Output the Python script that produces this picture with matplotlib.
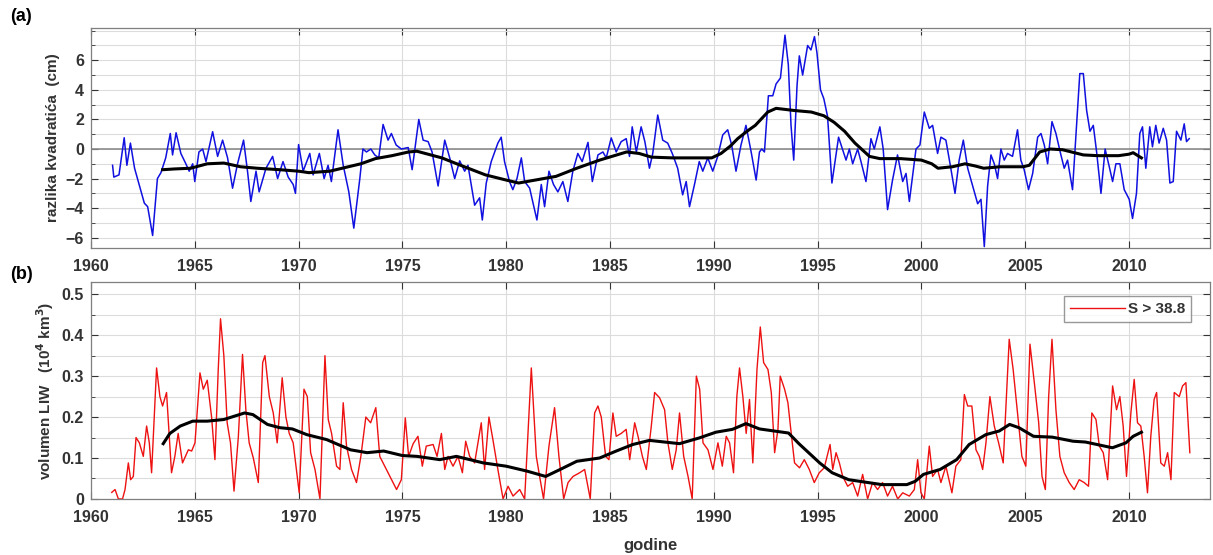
# -*- coding: utf-8 -*-

import matplotlib.pyplot as plt
import matplotlib.ticker as mticker
import numpy as np

plt.rcParams['font.family'] = ['Liberation Sans', 'DejaVu Sans']
plt.rcParams['font.weight'] = 'bold'

# (a) razlika kvadratica, cm  (godina, vrijednost)
a_t = [1961.04, 1961.1, 1961.35, 1961.6, 1961.73, 1961.9, 1962.1, 1962.57, 1962.73, 1962.97,
       1963.2, 1963.37, 1963.6, 1963.82, 1963.93, 1964.1, 1964.33, 1964.57, 1964.73, 1964.9,
       1965.0, 1965.2, 1965.38, 1965.54, 1965.86, 1966.1, 1966.34, 1966.58, 1966.82, 1967.06,
       1967.35, 1967.54, 1967.7, 1967.95, 1968.1, 1968.43, 1968.75, 1968.99, 1969.25, 1969.5,
       1969.74, 1969.85, 1970.0, 1970.22, 1970.54, 1970.7, 1971.0, 1971.23, 1971.42, 1971.58,
       1971.9, 1972.15, 1972.42, 1972.66, 1972.95, 1973.1, 1973.27, 1973.48, 1973.67, 1973.86,
       1974.07, 1974.31, 1974.47, 1974.7, 1974.95, 1975.28, 1975.47, 1975.79, 1976.0, 1976.24,
       1976.43, 1976.72, 1977.04, 1977.28, 1977.52, 1977.76, 1978.0, 1978.16, 1978.48, 1978.72,
       1978.85, 1979.04, 1979.28, 1979.6, 1979.76, 1979.92, 1980.16, 1980.32, 1980.52, 1980.73,
       1980.89, 1981.13, 1981.48, 1981.69, 1981.85, 1982.06, 1982.28, 1982.49, 1982.73, 1982.97,
       1983.21, 1983.45, 1983.66, 1983.94, 1984.15, 1984.42, 1984.66, 1984.82, 1985.06, 1985.3,
       1985.54, 1985.78, 1985.94, 1986.07, 1986.27, 1986.5, 1986.68, 1986.9, 1987.06, 1987.3,
       1987.54, 1987.78, 1988.0, 1988.26, 1988.5, 1988.67, 1988.83, 1989.07, 1989.3, 1989.47,
       1989.71, 1989.95, 1990.19, 1990.43, 1990.67, 1990.86, 1991.07, 1991.31, 1991.55, 1991.8,
       1992.04, 1992.2, 1992.31, 1992.44, 1992.63, 1992.84, 1993.0, 1993.21, 1993.43, 1993.59,
       1993.72, 1993.85, 1994.01, 1994.12, 1994.28, 1994.52, 1994.68, 1994.85, 1994.97, 1995.14,
       1995.3, 1995.48, 1995.69, 1996.01, 1996.37, 1996.53, 1996.69, 1996.93, 1997.09, 1997.33,
       1997.57, 1997.73, 1998.0, 1998.16, 1998.37, 1998.61, 1998.85, 1999.1, 1999.26, 1999.42,
       1999.74, 1999.93, 2000.14, 2000.38, 2000.54, 2000.78, 2000.94, 2001.18, 2001.38, 2001.62,
       2001.82, 2002.02, 2002.23, 2002.47, 2002.71, 2002.87, 2003.03, 2003.19, 2003.35, 2003.51,
       2003.67, 2003.83, 2003.99, 2004.15, 2004.39, 2004.63, 2004.79, 2004.95, 2005.16, 2005.36,
       2005.6, 2005.76, 2005.92, 2006.08, 2006.29, 2006.48, 2006.72, 2006.88, 2007.04, 2007.28,
       2007.47, 2007.63, 2007.8, 2007.96, 2008.12, 2008.28, 2008.44, 2008.65, 2008.85, 2009.05,
       2009.21, 2009.37, 2009.56, 2009.77, 2010.01, 2010.17, 2010.36, 2010.52, 2010.65, 2010.81,
       2011.0, 2011.13, 2011.29, 2011.45, 2011.65, 2011.81, 2011.97, 2012.13, 2012.29, 2012.5,
       2012.66, 2012.77, 2012.9]
a_v = [-1.1, -1.9, -1.75, 0.76, -1.1, 0.4, -1.3, -3.66, -3.9, -5.85,
       -2.0, -1.6, -0.6, 1.05, -0.4, 1.1, -0.3, -1.0, -1.5, -1.0,
       -2.2, -0.2, 0.0, -0.85, 1.17, -0.5, 0.6, -0.6, -2.65, -1.0,
       0.6, -1.5, -3.55, -1.5, -2.9, -1.3, -0.5, -2.0, -0.85, -1.9,
       -2.4, -3.0, 0.3, -1.5, -0.3, -1.75, -0.3, -2.0, -1.1, -2.2,
       1.3, -1.1, -2.9, -5.35, -2.0, 0.0, -0.2, 0.0, -0.4, -0.6,
       1.66, 0.6, 1.05, 0.27, 0.0, 0.1, -1.4, 2.0, 0.6, 0.5,
       -0.2, -2.5, 0.6, -0.6, -2.0, -0.8, -1.5, -1.1, -3.8, -3.3,
       -4.8, -2.3, -0.85, 0.4, 0.8, -0.85, -2.2, -2.75, -2.0, -0.6,
       -2.2, -2.65, -4.8, -2.4, -3.9, -1.5, -2.4, -2.9, -2.2, -3.55,
       -1.5, -0.3, -0.85, 0.45, -2.2, -0.4, -0.2, -0.6, 0.75, -0.2,
       0.5, 0.7, -0.5, 1.5, -0.2, 1.5, 0.5, -1.3, -0.3, 2.3,
       0.6, 0.4, -0.3, -1.3, -3.1, -2.2, -3.9, -2.4, -0.85, -1.5,
       -0.6, -1.5, -0.5, 0.95, 1.3, 0.27, -1.5, 0.27, 1.6, -0.2,
       -2.1, -0.2, 0.0, -0.2, 3.6, 3.6, 4.4, 4.8, 7.7, 5.7,
       1.6, -0.75, 4.3, 6.3, 5.0, 7.0, 6.7, 7.6, 6.5, 4.0,
       3.4, 2.2, -2.3, 0.8, -0.75, 0.0, -1.0, 0.0, -0.85, -2.2,
       0.7, 0.0, 1.5, 0.0, -4.1, -2.1, -0.4, -2.2, -1.65, -3.55,
       0.0, 0.27, 2.5, 1.4, 1.6, -0.3, 0.8, 0.6, -1.0, -3.0,
       -0.75, 0.6, -1.3, -2.5, -3.7, -3.4, -6.6, -2.5, -0.4, -1.0,
       -2.0, 0.0, -0.75, -0.3, -0.5, 1.3, -0.75, -1.4, -2.75, -1.65,
       0.8, 1.05, 0.27, -1.0, 1.85, 1.05, -0.4, -1.3, -0.75, -2.75,
       1.5, 5.1, 5.1, 2.6, 1.2, 1.6, -0.2, -3.0, 0.0, -1.2,
       -2.2, -1.0, -1.0, -2.75, -3.4, -4.7, -3.0, 1.05, 1.5, -1.3,
       1.5, 0.15, 1.6, 0.4, 1.4, 0.6, -2.3, -2.2, 1.2, 0.6,
       1.7, 0.5, 0.7]

# (a) izgladjena krivulja
a_smooth_t = [1963.45, 1964.0, 1964.8, 1965.6, 1966.4, 1967.2, 1968.0, 1969.1, 1970.0, 1970.5,
              1971.5, 1972.1, 1973.0, 1973.7, 1974.5, 1975.3, 1975.7, 1976.9, 1977.8, 1979.0,
              1980.0, 1980.6, 1981.0, 1982.4, 1983.4, 1984.5, 1985.8, 1986.4, 1987.0, 1988.0,
              1989.0, 1989.9, 1990.35, 1990.8, 1991.15, 1991.6, 1992.0, 1992.6, 1993.0, 1993.9,
              1994.7, 1995.3, 1995.8, 1996.3, 1996.8, 1997.5, 1998.0, 1999.0, 2000.0, 2000.5,
              2000.8, 2001.5, 2002.1, 2002.6, 2003.0, 2003.8, 2004.9, 2005.2, 2005.7, 2006.2,
              2006.8, 2007.8, 2008.5, 2009.5, 2010.0, 2010.2, 2010.6]
a_smooth_v = [-1.4, -1.35, -1.3, -1.0, -0.95, -1.2, -1.3, -1.4, -1.5, -1.6,
              -1.5, -1.3, -1.0, -0.65, -0.45, -0.2, -0.15, -0.6, -1.1, -1.75,
              -2.1, -2.3, -2.2, -1.85, -1.3, -0.75, -0.2, -0.3, -0.55, -0.6,
              -0.6, -0.6, -0.3, 0.2, 0.7, 1.2, 1.6, 2.5, 2.75, 2.6,
              2.5, 2.25, 1.8, 1.2, 0.4, -0.5, -0.65, -0.65, -0.75, -1.0,
              -1.3, -1.2, -1.0, -1.15, -1.3, -1.2, -1.2, -1.1, -0.2, 0.0,
              -0.05, -0.4, -0.45, -0.45, -0.35, -0.25, -0.6]

# (b) volumen LIW, 10^4 km^3
b_t = [1961.0, 1961.16, 1961.32, 1961.52, 1961.64, 1961.8, 1961.91, 1962.04, 1962.17, 1962.33,
       1962.52, 1962.68, 1962.81, 1962.92, 1963.16, 1963.32, 1963.45, 1963.64, 1963.88, 1964.04,
       1964.2, 1964.41, 1964.69, 1964.85, 1965.01, 1965.25, 1965.41, 1965.6, 1965.81, 1965.97,
       1966.13, 1966.24, 1966.4, 1966.56, 1966.72, 1966.89, 1967.1, 1967.3, 1967.46, 1967.62,
       1967.82, 1968.06, 1968.27, 1968.38, 1968.59, 1968.78, 1968.97, 1969.21, 1969.39, 1969.55,
       1969.74, 1970.03, 1970.26, 1970.42, 1970.58, 1970.79, 1971.03, 1971.27, 1971.43, 1971.59,
       1971.83, 1971.99, 1972.15, 1972.31, 1972.55, 1972.79, 1973.0, 1973.24, 1973.47, 1973.72,
       1973.91, 1974.15, 1974.4, 1974.72, 1974.95, 1975.14, 1975.3, 1975.52, 1975.75, 1975.96,
       1976.15, 1976.48, 1976.67, 1976.88, 1977.04, 1977.2, 1977.44, 1977.68, 1977.89, 1978.05,
       1978.24, 1978.48, 1978.8, 1978.96, 1979.17, 1979.36, 1979.6, 1979.85, 1980.09, 1980.33,
       1980.65, 1980.89, 1981.21, 1981.45, 1981.61, 1981.8, 1982.06, 1982.33, 1982.54, 1982.77,
       1982.98, 1983.22, 1983.54, 1983.78, 1984.05, 1984.26, 1984.42, 1984.58, 1984.79, 1984.95,
       1985.14, 1985.3, 1985.54, 1985.78, 1985.95, 1986.19, 1986.35, 1986.56, 1986.75, 1986.99,
       1987.15, 1987.39, 1987.63, 1987.79, 1988.0, 1988.19, 1988.35, 1988.55, 1988.76, 1988.96,
       1989.16, 1989.32, 1989.48, 1989.72, 1989.96, 1990.2, 1990.41, 1990.6, 1990.76, 1990.95,
       1991.11, 1991.24, 1991.4, 1991.56, 1991.72, 1991.88, 1992.08, 1992.24, 1992.4, 1992.61,
       1992.77, 1992.93, 1993.09, 1993.2, 1993.41, 1993.57, 1993.73, 1993.89, 1994.13, 1994.36,
       1994.6, 1994.84, 1995.08, 1995.32, 1995.6, 1995.73, 1995.89, 1996.05, 1996.21, 1996.45,
       1996.69, 1996.93, 1997.17, 1997.41, 1997.65, 1997.89, 1998.13, 1998.37, 1998.61, 1998.86,
       1999.1, 1999.42, 1999.66, 1999.82, 1999.98, 2000.14, 2000.38, 2000.54, 2000.78, 2000.94,
       2001.18, 2001.47, 2001.66, 2001.9, 2002.07, 2002.23, 2002.43, 2002.63, 2002.79, 2002.95,
       2003.11, 2003.3, 2003.51, 2003.72, 2003.94, 2004.23, 2004.42, 2004.63, 2004.84, 2005.03,
       2005.23, 2005.44, 2005.65, 2005.81, 2005.97, 2006.13, 2006.29, 2006.48, 2006.67, 2006.88,
       2007.12, 2007.36, 2007.6, 2007.84, 2008.05, 2008.21, 2008.41, 2008.57, 2008.76, 2008.97,
       2009.21, 2009.4, 2009.56, 2009.72, 2009.88, 2010.09, 2010.25, 2010.41, 2010.57, 2010.73,
       2010.89, 2011.05, 2011.21, 2011.33, 2011.53, 2011.7, 2011.86, 2012.02, 2012.18, 2012.42,
       2012.58, 2012.74, 2012.93]
b_v = [0.016, 0.023, 0.0, 0.0, 0.023, 0.088, 0.047, 0.055, 0.15, 0.137,
       0.104, 0.178, 0.137, 0.064, 0.32, 0.25, 0.227, 0.26, 0.064, 0.104,
       0.16, 0.088, 0.12, 0.117, 0.137, 0.308, 0.268, 0.29, 0.2, 0.096,
       0.316, 0.44, 0.35, 0.186, 0.137, 0.019, 0.153, 0.353, 0.218, 0.137,
       0.1, 0.04, 0.333, 0.35, 0.25, 0.21, 0.137, 0.296, 0.2, 0.16,
       0.137, 0.015, 0.268, 0.25, 0.113, 0.072, 0.0, 0.35, 0.194, 0.16,
       0.08, 0.072, 0.235, 0.129, 0.072, 0.04, 0.104, 0.2, 0.186, 0.223,
       0.104, 0.08, 0.055, 0.023, 0.047, 0.198, 0.104, 0.135, 0.153, 0.08,
       0.129, 0.133, 0.104, 0.16, 0.072, 0.104, 0.08, 0.104, 0.064, 0.141,
       0.104, 0.088, 0.186, 0.072, 0.2, 0.145, 0.072, 0.0, 0.031, 0.007,
       0.023, 0.0, 0.32, 0.104, 0.055, 0.0, 0.129, 0.223, 0.104, 0.0,
       0.04, 0.055, 0.064, 0.072, 0.0, 0.21, 0.227, 0.2, 0.104, 0.096,
       0.21, 0.153, 0.16, 0.17, 0.096, 0.186, 0.153, 0.104, 0.072, 0.178,
       0.26, 0.247, 0.218, 0.137, 0.072, 0.12, 0.21, 0.104, 0.055, 0.0,
       0.3, 0.268, 0.137, 0.12, 0.072, 0.137, 0.08, 0.153, 0.137, 0.064,
       0.25, 0.32, 0.25, 0.16, 0.243, 0.088, 0.316, 0.42, 0.333, 0.316,
       0.26, 0.113, 0.17, 0.3, 0.268, 0.235, 0.16, 0.088, 0.076, 0.096,
       0.072, 0.04, 0.064, 0.076, 0.133, 0.072, 0.113, 0.088, 0.055, 0.031,
       0.04, 0.007, 0.06, 0.0, 0.04, 0.023, 0.04, 0.007, 0.031, 0.0,
       0.015, 0.007, 0.023, 0.096, 0.015, 0.0, 0.129, 0.055, 0.072, 0.04,
       0.08, 0.015, 0.08, 0.096, 0.255, 0.227, 0.227, 0.12, 0.104, 0.072,
       0.137, 0.25, 0.178, 0.137, 0.088, 0.39, 0.316, 0.21, 0.104, 0.08,
       0.378, 0.284, 0.186, 0.055, 0.023, 0.25, 0.39, 0.218, 0.104, 0.064,
       0.04, 0.023, 0.047, 0.04, 0.031, 0.21, 0.194, 0.129, 0.113, 0.047,
       0.276, 0.218, 0.25, 0.178, 0.055, 0.21, 0.292, 0.186, 0.178, 0.104,
       0.015, 0.153, 0.243, 0.26, 0.088, 0.08, 0.113, 0.047, 0.26, 0.25,
       0.276, 0.284, 0.113]

# (b) izgladjena krivulja
b_smooth_t = [1963.48, 1963.8, 1964.3, 1964.9, 1965.6, 1966.4, 1967.4, 1967.8, 1968.5, 1969.1,
              1969.7, 1970.4, 1971.35, 1972.5, 1973.3, 1974.1, 1975.0, 1975.7, 1976.8, 1977.6,
              1978.9, 1980.0, 1981.0, 1981.9, 1982.6, 1983.4, 1984.5, 1985.3, 1986.1, 1986.9,
              1988.35, 1989.3, 1990.1, 1990.9, 1991.55, 1992.2, 1993.6, 1994.1, 1995.1, 1995.7,
              1996.5, 1998.1, 1999.3, 1999.7, 2000.1, 2000.9, 2001.7, 2002.3, 2003.1, 2003.75,
              2004.25, 2004.7, 2005.4, 2006.3, 2007.3, 2007.9, 2009.2, 2009.85, 2010.2, 2010.6]
b_smooth_v = [0.135, 0.16, 0.178, 0.19, 0.19, 0.194, 0.21, 0.206, 0.182, 0.174,
              0.171, 0.157, 0.145, 0.12, 0.113, 0.117, 0.106, 0.104, 0.096, 0.104,
              0.088, 0.08, 0.068, 0.055, 0.072, 0.092, 0.1, 0.117, 0.133, 0.143,
              0.135, 0.149, 0.163, 0.17, 0.184, 0.171, 0.161, 0.135, 0.088, 0.064,
              0.047, 0.035, 0.035, 0.043, 0.06, 0.072, 0.096, 0.133, 0.157, 0.166,
              0.182, 0.174, 0.153, 0.151, 0.141, 0.139, 0.125, 0.137, 0.153, 0.163]

x_ticks = [1960, 1965, 1970, 1975, 1980, 1985, 1990, 1995, 2000, 2005, 2010]
tick_col = '#333333'
grid_col = '#dcdcdc'


def style_axes(ax):
    ax.set_xlim(1960, 2013.9)
    ax.set_xticks(x_ticks)
    ax.grid(True, which='major', axis='x', color=grid_col, lw=0.8)
    ax.grid(True, which='both', axis='y', color=grid_col, lw=0.8)
    ax.tick_params(which='both', direction='in', top=True, right=True,
                   colors=tick_col, labelsize=11.5)
    ax.tick_params(which='major', length=5)
    ax.tick_params(which='minor', length=3)
    ax.tick_params(axis='x', pad=8)
    ax.tick_params(axis='y', pad=5)
    for lab in ax.get_xticklabels() + ax.get_yticklabels():
        lab.set_fontweight('bold')
    for s in ax.spines.values():
        s.set_color('#7f7f7f')
        s.set_linewidth(0.9)
    ax.set_axisbelow(True)


fig = plt.figure(figsize=(12.13, 5.55), dpi=100)
ax1 = fig.add_axes([0.075, 0.553, 0.9225, 0.397])
ax2 = fig.add_axes([0.075, 0.101, 0.9225, 0.391])

# panel (a)
ax1.axhline(0, color='#8c8c8c', lw=1.2, zorder=1)
ax1.plot(a_t, a_v, color='#1010e0', lw=1.1, zorder=2)
ax1.plot(a_smooth_t, a_smooth_v, color='black', lw=2.2, zorder=3)
ax1.set_ylim(-6.7, 8.2)
ax1.set_yticks(np.arange(-6, 7, 2))
ax1.yaxis.set_minor_locator(mticker.MultipleLocator(1))
style_axes(ax1)
ax1.set_ylabel('razlika kvadratića  (cm)', fontsize=11, fontweight='bold',
               color=tick_col, labelpad=4)

# panel (b)
ax2.plot(b_t, b_v, color='#ee1111', lw=1.0, zorder=2, label='S > 38.8')
ax2.plot(b_smooth_t, b_smooth_v, color='black', lw=2.2, zorder=3)
ax2.set_ylim(0, 0.53)
ax2.set_yticks(np.arange(0, 0.51, 0.1))
ax2.yaxis.set_major_formatter(mticker.FuncFormatter(lambda v, p: '0' if v == 0 else ('%.1f' % v)))
ax2.yaxis.set_minor_locator(mticker.MultipleLocator(0.05))
style_axes(ax2)
ax2.set_ylabel('volumen LIW   (10$^\\mathbf{4}$ km$^\\mathbf{3}$)', fontsize=11,
               fontweight='bold', color=tick_col, labelpad=4)
ax2.set_xlabel('godine', fontsize=12, fontweight='bold', color=tick_col, labelpad=9)
leg = ax2.legend(loc='upper right', bbox_to_anchor=(0.99, 0.97), fancybox=False,
                 handlelength=3.6, fontsize=11, borderpad=0.4, handletextpad=0.2)
leg.get_frame().set_edgecolor('#7f7f7f')
for t in leg.get_texts():
    t.set_fontweight('bold')
    t.set_color(tick_col)

fig.text(0.008, 0.962, '(a)', fontsize=13, fontweight='bold')
fig.text(0.008, 0.497, '(b)', fontsize=13, fontweight='bold')

fig.savefig('out.png', dpi=100)
